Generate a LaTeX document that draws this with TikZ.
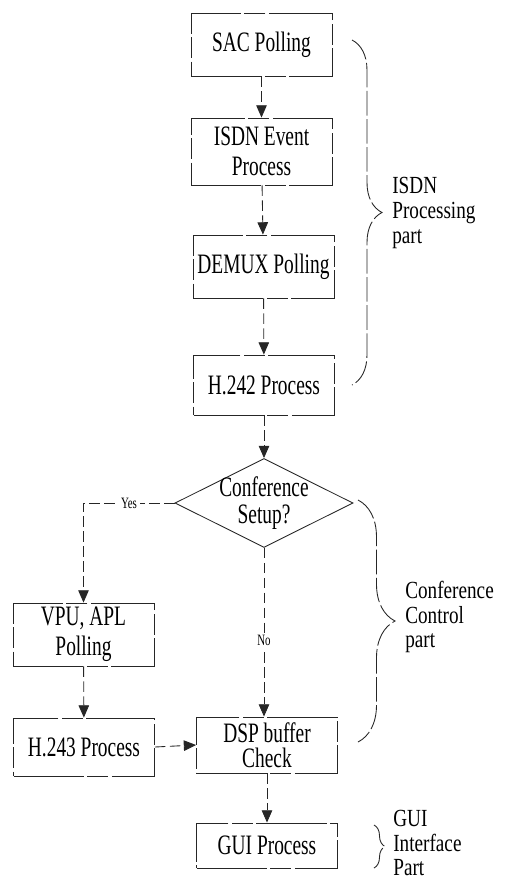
\documentclass[tikz,border=0pt]{standalone}
\usepackage{fontspec}
\newfontfamily\figfont[FakeStretch=0.69]{Liberation Serif}
\newfontfamily\sidefont[FakeStretch=0.78]{Liberation Serif}
\usetikzlibrary{arrows.meta,shapes.geometric,decorations.pathreplacing}

\begin{document}
\begin{tikzpicture}[x=0.02cm,y=-0.02cm,
        box/.style={draw=black!85, line width=0.5pt,
            dash pattern=on 40pt off 2pt on 12pt off 2pt,
            rectangle, minimum width=2.82cm, minimum height=1.26cm,
            inner sep=0pt, align=center, font=\fontsize{16}{17}\figfont},
        decision/.style={draw=black!85, line width=0.5pt, diamond,
            minimum width=3.56cm, minimum height=1.78cm, inner sep=0pt},
        flow/.style={draw=black!85, line width=0.5pt,
            dash pattern=on 6pt off 2.5pt,
            -{Triangle[width=6pt,length=7pt]}},
        tag/.style={font=\fontsize{9}{10}\figfont, fill=white, inner sep=1.5pt},
        part/.style={anchor=west, align=left, inner sep=0pt,
            font=\fontsize{14}{14}\sidefont},
        bracket/.style={draw=black!85, line width=0.5pt,
            dash pattern=on 14pt off 2pt, decorate,
            decoration={brace, amplitude=#1}}]

    \useasboundingbox (0,0) rectangle (505,880);

    % Blöcke
    \node[box] (sac) at (261.5,44.5) {SAC Polling};
    \node[box, minimum height=1.34cm] (isdn) at (261.5,151.5) {ISDN Event\\Process};
    \node[box] (demux) at (263.5,266.5) {DEMUX Polling};
    \node[box, minimum height=1.2cm] (h242) at (264,385) {H.242 Process};
    \node[decision] (dec) at (264,503) {};
    \node[align=center, font=\fontsize{16}{15}\figfont] (dectext) at (dec) {Conference\\Setup?};
    \node[box] (vpu) at (83.5,634.5) {VPU, APL\\Polling};
    \node[box, minimum height=1.16cm] (h243) at (84,747) {H.243 Process};
    \node[box, minimum height=1.12cm, font=\fontsize{16}{14.5}\figfont] (dsp) at (267,745) {DSP buffer\\Check};
    \node[box, minimum height=0.9cm] (gui) at (267,845.5) {GUI Process};

    % Verbindungen
    \draw[flow] (sac) -- (isdn);
    \draw[flow] (isdn) -- (demux);
    \draw[flow] (demux) -- (h242);
    \draw[flow] (h242) -- (dec);
    \coordinate (yesturn) at (vpu.north |- dec.west);
    \draw[flow] (dec.west) -- node[tag] (yes) {Yes} (yesturn) -- (vpu.north);
    \draw[flow] (dec.south) -- node[tag, pos=0.55] (no) {No} (dec.south |- dsp.north);
    \draw[flow] (vpu) -- (h243);
    \draw[flow] (h243.east) -- (dsp.west);
    \draw[flow] (dsp) -- (gui);

    % Klammern
    \coordinate (isdntop) at (352,40);
    \coordinate (isdnbot) at (352,385);
    \draw[bracket=0.6cm] (isdntop) -- (isdnbot);
    \node[part] (isdnpart) at (392,213) {ISDN\\Processing\\part};

    \coordinate (conftop) at (358,500);
    \coordinate (confbot) at (358,742);
    \draw[bracket=0.74cm] (conftop) -- (confbot);
    \node[part] (confpart) at (405,617) {Conference\\Control\\part};

    \coordinate (guitop) at (374,825);
    \coordinate (guibot) at (374,868);
    \draw[bracket=0.22cm] (guitop) -- (guibot);
    \node[part] (guipart) at (393,843) {GUI\\Interface\\Part};
\end{tikzpicture}
\end{document}
